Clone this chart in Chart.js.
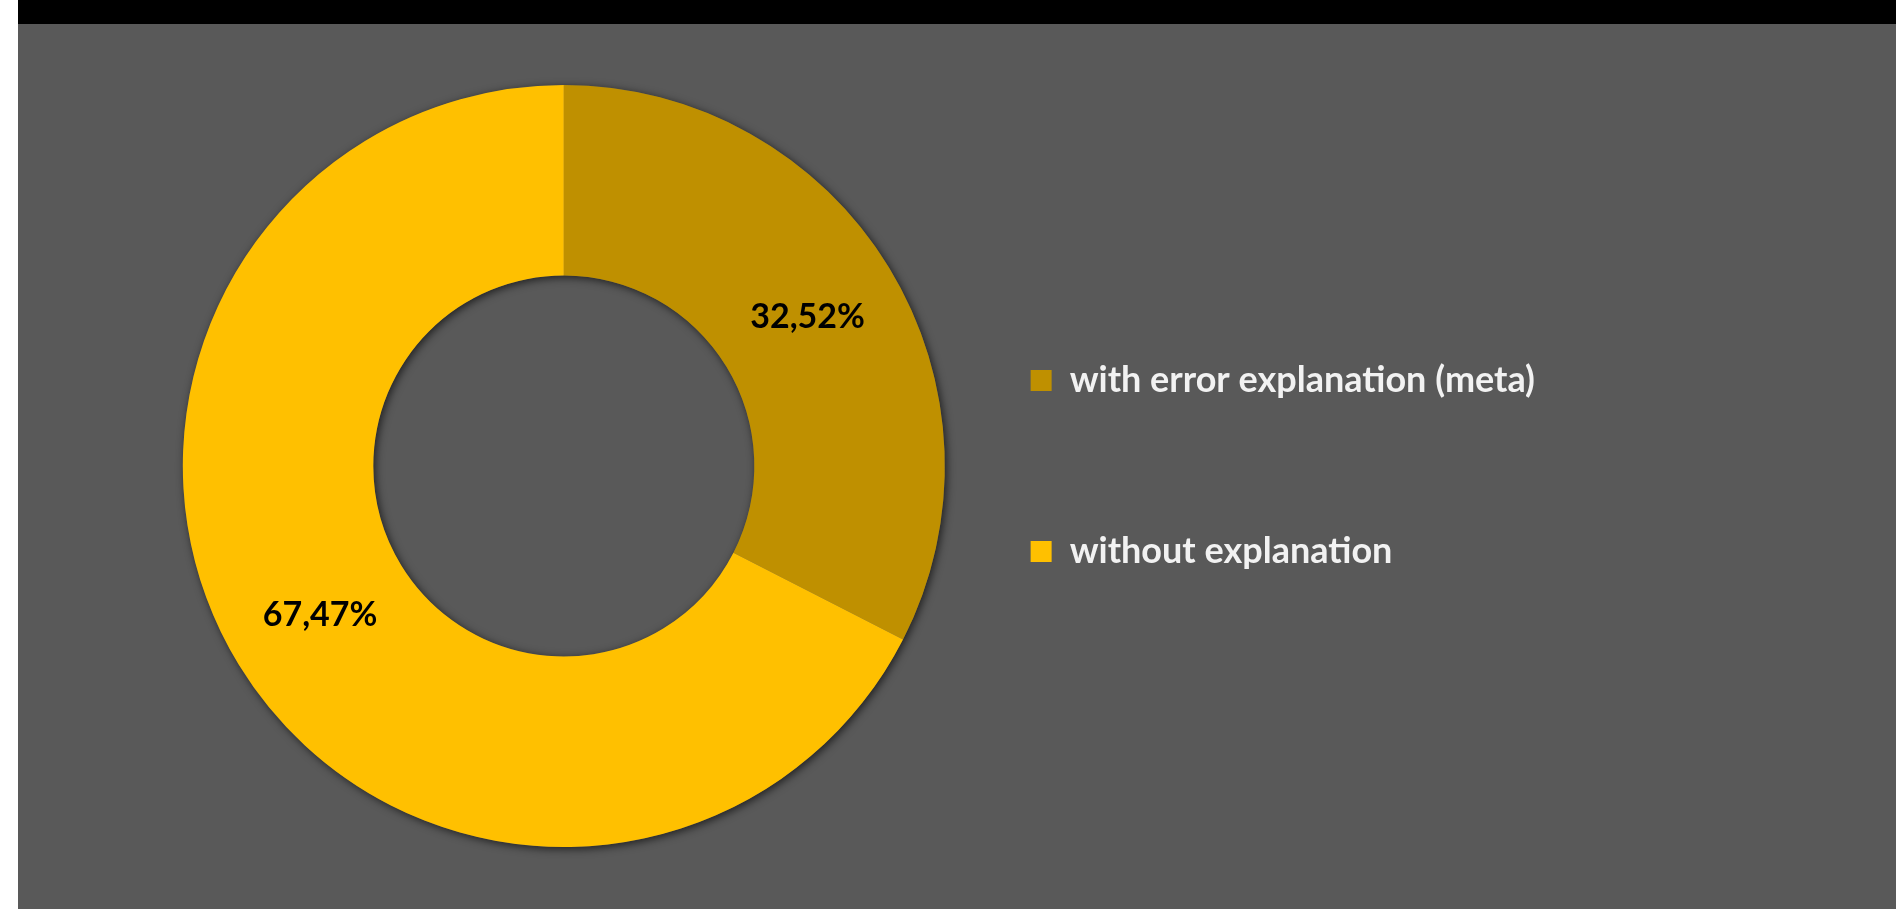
<!DOCTYPE html>
<html>
<head>
<meta charset="utf-8">
<script src="https://cdn.jsdelivr.net/npm/chart.js@4/dist/chart.umd.min.js"></script>
<style>
  html, body { margin: 0; padding: 0; background: #ffffff; overflow: hidden; }
  #topbar { position: absolute; left: 18px; top: 0; right: 0; height: 24px; background: #000000; }
  #wrap { position: absolute; left: 18px; top: 24px; width: 1878px; height: 885px; background: #595959; }
</style>
</head>
<body>
<div id="topbar"></div>
<div id="wrap"><canvas id="myChart"></canvas></div>
<script>
var categories = ['with error explanation (meta)', 'without explanation'];
var shares = [32.52, 67.47];
var sliceColors = ['#bf9000', '#ffc000'];

// soft shadow under the whole ring, drawn once before the slices
var ringShadow = {
  id: 'ringShadow',
  beforeDatasetsDraw: function (chart) {
    var arc = chart.getDatasetMeta(0).data[0];
    if (!arc) return;
    var c = chart.ctx;
    c.save();
    c.shadowColor = 'rgba(0,0,0,0.65)';
    c.shadowBlur = 9;
    c.shadowOffsetX = 2;
    c.shadowOffsetY = 2;
    c.fillStyle = '#595959';
    c.beginPath();
    c.arc(arc.x, arc.y, arc.outerRadius, 0, Math.PI * 2);
    c.arc(arc.x, arc.y, arc.innerRadius, Math.PI * 2, 0, true);
    c.closePath();
    c.fill();
    c.restore();
  }
};

// percentage labels in the middle of each slice
var sliceLabels = {
  id: 'sliceLabels',
  afterDatasetsDraw: function (chart) {
    var c = chart.ctx;
    var meta = chart.getDatasetMeta(0);
    c.save();
    c.font = 'bold 34px Lato';
    c.fillStyle = '#000000';
    c.textAlign = 'center';
    c.textBaseline = 'middle';
    meta.data.forEach(function (arc, i) {
      var p = arc.tooltipPosition();
      c.fillText(shares[i].toFixed(2).replace('.', ',') + '%', p.x, p.y);
    });
    c.restore();
  }
};

var ctx = document.getElementById('myChart').getContext('2d');
var myChart = new Chart(ctx, {
  type: 'doughnut',
  data: {
    labels: categories,
    datasets: [{
      data: shares,
      backgroundColor: sliceColors,
      borderWidth: 0,
      hoverOffset: 0,
      radius: 381
    }]
  },
  options: {
    responsive: true,
    maintainAspectRatio: false,
    animation: false,
    cutout: '50%',
    layout: {
      padding: { top: 61, bottom: 62, left: 214, right: 351 }
    },
    plugins: {
      tooltip: { enabled: false },
      legend: {
        position: 'right',
        align: 'center',
        maxWidth: 800,
        labels: {
          color: '#f2f2f2',
          boxWidth: 21,
          boxHeight: 21,
          padding: 135,
          font: { family: 'Lato', size: 36, weight: 'bold' }
        }
      }
    }
  },
  plugins: [ringShadow, sliceLabels]
});
</script>
</body>
</html>
